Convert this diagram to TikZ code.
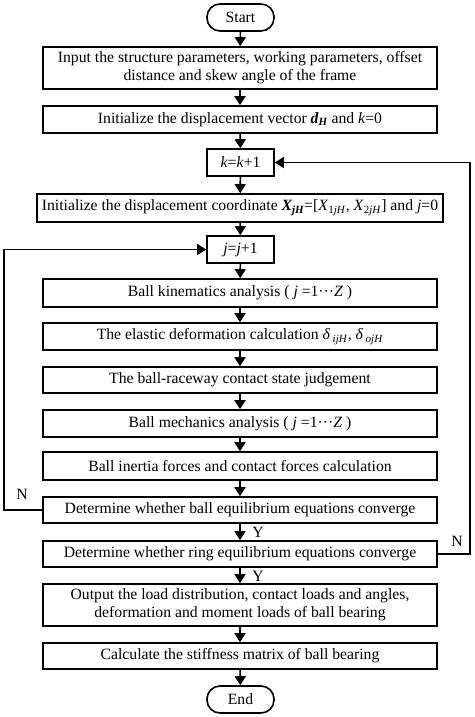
\documentclass[tikz,border=0pt]{standalone}
\usepackage{fontspec}
\setmainfont{Liberation Serif}
\usetikzlibrary{arrows.meta}
\begin{document}
\begin{tikzpicture}[x=1pt,y=-1pt,
  line width=1.6pt,
  every node/.style={font=\fontsize{15.7}{18.3}\selectfont, inner sep=0pt, align=center},
  pbox/.style={draw, minimum width=394pt, minimum height=#1},
  pbox/.default=27pt,
  term/.style={draw, rounded corners=13pt, minimum width=67pt, minimum height=27pt},
  sbox/.style={draw, minimum width=67pt, minimum height=27pt},
  arr/.style={-{Triangle[width=11pt,length=9pt]}},
  lbl/.style={font=\fontsize{15.7}{16}\selectfont}
]
\useasboundingbox (0,0) rectangle (474,717);
\node[term] (start) at (240.5,17.5) {Start};
\node[pbox=42pt] (b1) at (240,68) {Input the structure parameters, working parameters, offset\\distance and skew angle of the frame};
\node[pbox] (b2) at (240,119.5) {Initialize the displacement vector \textbf{\textit{d\textsubscript{H}}} and \textit{k}=0};
\node[sbox] (kk) at (240.5,162.5) {\textit{k}=\textit{k}+1};
\node[draw, minimum width=406pt, minimum height=28pt] (bx) at (240,208) {Initialize the displacement coordinate \textbf{\textit{X\textsubscript{jH}}}=[\textit{X}\textsubscript{1\textit{jH}}, \textit{X}\textsubscript{2\textit{jH}}] and \textit{j}=0};
\node[sbox] (jj) at (240.5,249.5) {\textit{j}=\textit{j}+1};
\node[pbox=28pt] (c1) at (240,293) {Ball kinematics analysis ( \textit{j} =1\textperiodcentered\textperiodcentered\textperiodcentered\textit{Z} )};
\node[pbox] (c2) at (240,336.5) {The elastic deformation calculation \textit{δ}\,\textsubscript{\textit{ijH}}, \textit{δ}\,\textsubscript{\textit{ojH}}};
\node[pbox=26pt] (c3) at (240,380) {The ball-raceway contact state judgement};
\node[pbox] (c4) at (240,423.5) {Ball mechanics analysis ( \textit{j} =1\textperiodcentered\textperiodcentered\textperiodcentered\textit{Z} )};
\node[pbox=28pt] (c5) at (240,466) {Ball inertia forces and contact forces calculation};
\node[pbox=26pt] (d1) at (240,510) {Determine whether ball equilibrium equations converge};
\node[pbox=26pt] (d2) at (240,554) {Determine whether ring equilibrium equations converge};
\node[pbox=42pt] (out) at (240,605) {Output the load distribution, contact loads and angles,\\deformation and moment loads of ball bearing};
\node[pbox=26pt] (calc) at (240,656) {Calculate the stiffness matrix of ball bearing};
\node[term] (end) at (240.5,699.5) {End};
\foreach \a/\b in {start/b1,b1/b2,b2/kk,kk/bx,bx/jj,jj/c1,c1/c2,c2/c3,c3/c4,c4/c5,c5/d1,d1/d2,d2/out,out/calc,calc/end}
  \draw[arr] (\a) -- (\b);
\coordinate (rl) at (470,554);
\coordinate (ll) at (4,510);
\draw[arr] (d2.east) -- (rl) |- (kk.east);
\draw[arr] (d1.west) -- (ll) |- (jj.west);
\node[lbl] (n1) at (22,494) {N};
\node[lbl] (n2) at (457,541) {N};
\node[lbl] (y1) at (258,532) {Y};
\node[lbl] (y2) at (258,576) {Y};
\end{tikzpicture}
\end{document}
